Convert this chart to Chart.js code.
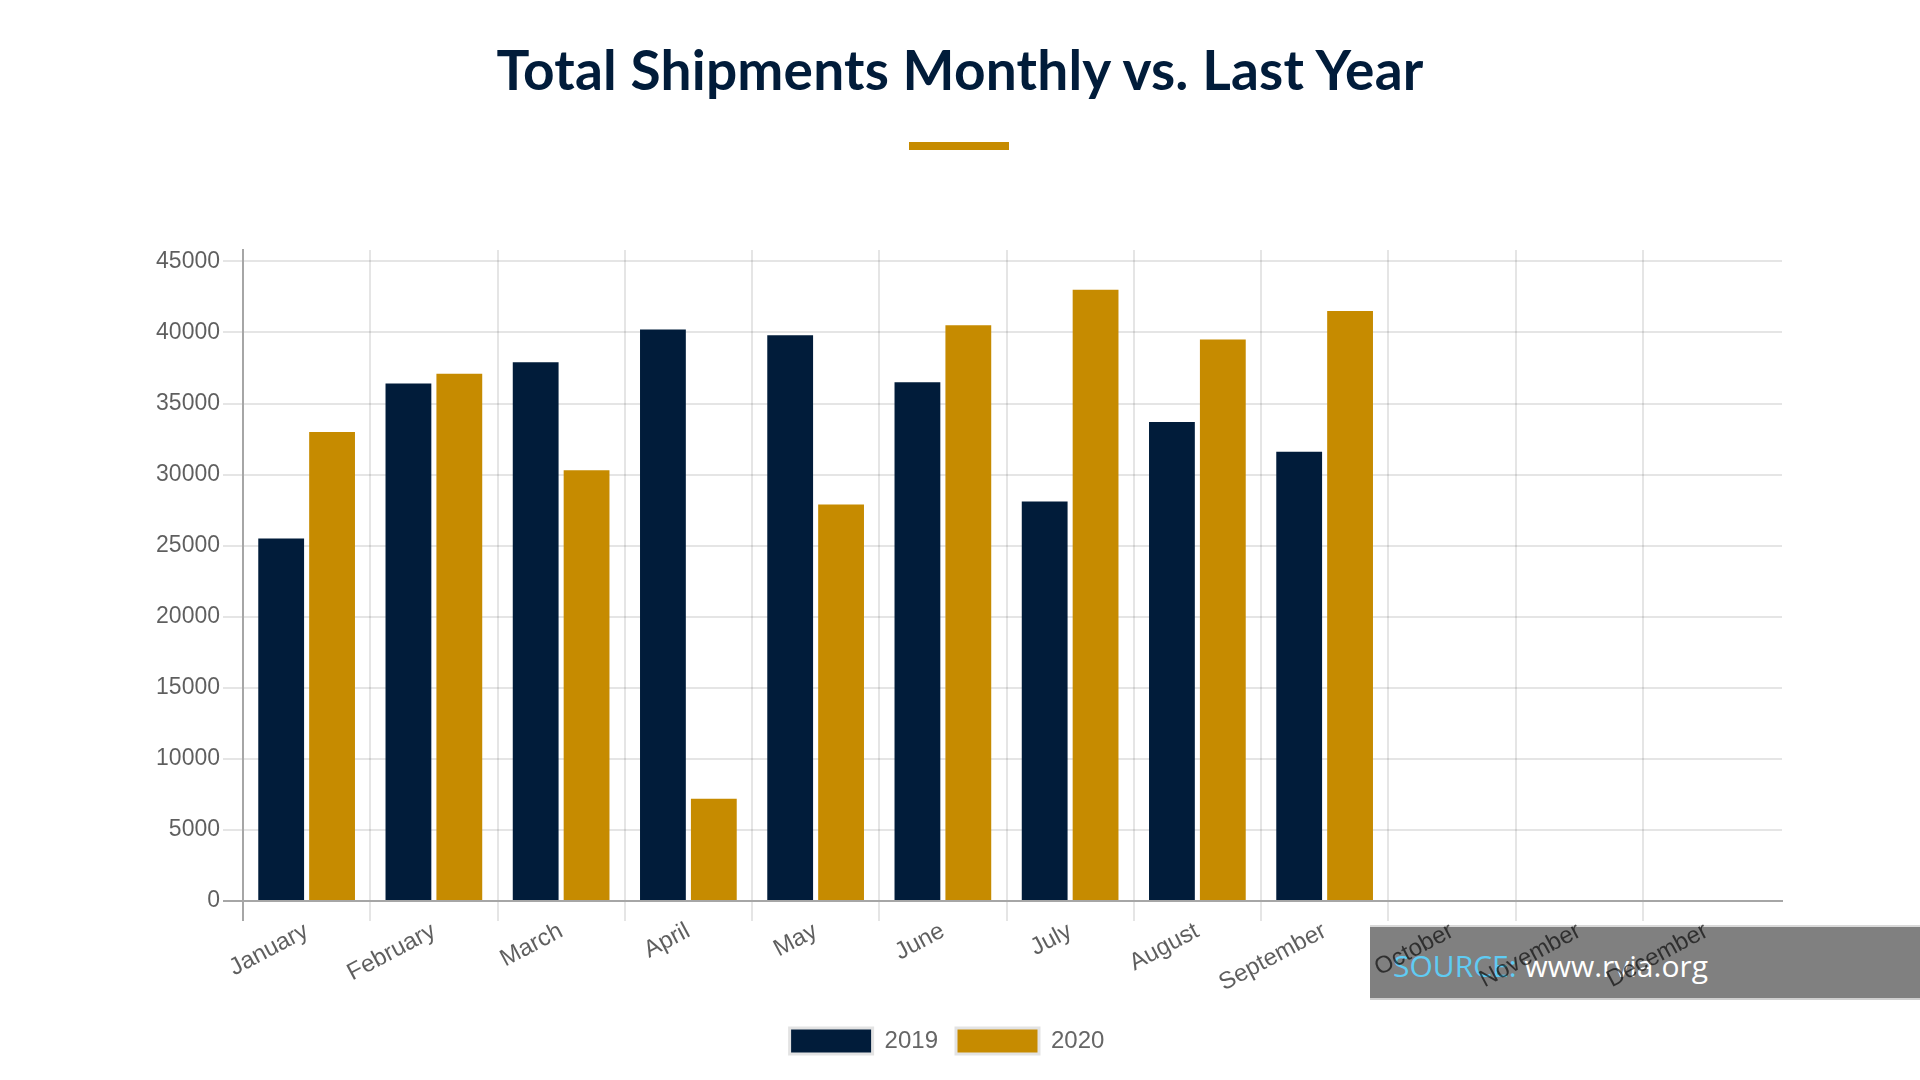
<!DOCTYPE html>
<html lang="en">
  <head>
    <meta charset="UTF-8" />
    <title>Total Shipments Monthly vs. Last Year</title>
    <script src="https://cdn.jsdelivr.net/npm/chart.js"></script>
    <style>
      html, body {
        margin: 0;
        padding: 0;
        width: 1920px;
        height: 1080px;
        background: #ffffff;
        overflow: hidden;
        position: relative;
      }
      #title {
        position: absolute;
        left: 0;
        width: 1920px;
        top: 36px;
        margin: 0;
        line-height: normal;
        text-align: center;
        font-family: "Lato", "Noto Sans", sans-serif;
        font-weight: 700;
        font-size: 55px;
        letter-spacing: 0.2px;
        color: #011c3a;
      }
      #underline {
        position: absolute;
        left: 909px;
        top: 142px;
        width: 100px;
        height: 8px;
        background: #c68b00;
      }
      #source {
        position: absolute;
        left: 1370px;
        top: 925px;
        width: 550px;
        height: 71px;
        background: #808080;
        border-top: 2px solid #d9d9d9;
        border-bottom: 2px solid #cfcfcf;
        z-index: 0;
      }
      #source span {
        position: absolute;
        left: 23px;
        top: 18px;
        line-height: normal;
        font-family: "Open Sans", "Noto Sans", sans-serif;
        font-size: 30px;
        color: #ffffff;
        white-space: nowrap;
      }
      #source b {
        font-weight: 400;
        color: #5fcbf3;
      }
      .container {
        position: absolute;
        left: 112px;
        top: 230px;
        width: 1694px;
        height: 834px;
        z-index: 1;
      }
    </style>
    <script>
      const months = [
        "January", "February", "March", "April", "May", "June",
        "July", "August", "September", "October", "November", "December",
      ];
      const seriesNames = ["2019", "2020"];
      const shipments2019 = [25500, 36400, 37900, 40200, 39800, 36500, 28100, 33700, 31600];
      const shipments2020 = [33000, 37100, 30300, 7200, 27900, 40500, 43000, 39500, 41500];
      const yTicks = [0, 5000, 10000, 15000, 20000, 25000, 30000, 35000, 40000, 45000];

      const NAVY = "#011c3a";
      const GOLD = "#c68b00";
      const AXIS_GRAY = "#a6a6a6";
      const GRID_GRAY = "rgba(0, 0, 0, 0.1)";
      // translucent so the labels darken where they cross the grey source box
      const TICK_COLOR = "rgba(0, 0, 0, 0.63)";
      // the category band stops a little short of where the horizontal grid ends
      const X_RIGHT_INSET = 12;

      const insetCategoryRange = {
        id: "insetCategoryRange",
        afterLayout(chart) {
          const x = chart.scales.x;
          x._endPixel = x.right - X_RIGHT_INSET;
          x._length = x._endPixel - x._startPixel;
        },
      };

      function drawShipmentsChart() {
        const data = {
          labels: months,
          datasets: [
            {
              label: seriesNames[0],
              data: shipments2019,
              backgroundColor: NAVY,
              borderWidth: 0,
            },
            {
              label: seriesNames[1],
              data: shipments2020,
              backgroundColor: GOLD,
              borderWidth: 0,
            },
          ],
        };

        const config = {
          type: "bar",
          data: data,
          plugins: [insetCategoryRange],
          options: {
            responsive: false,
            animation: false,
            layout: { padding: { top: 20, right: 24, left: 0, bottom: 0 } },
            plugins: {
              tooltip: { enabled: false },
              legend: {
                position: "bottom",
                labels: {
                  color: "#666",
                  boxWidth: 83,
                  boxHeight: 26,
                  padding: 18,
                  font: { family: "Liberation Sans", size: 24 },
                  generateLabels: (chart) =>
                    Chart.defaults.plugins.legend.labels
                      .generateLabels(chart)
                      .map((item) => ({ ...item, lineWidth: 3, strokeStyle: "#e3e3e3" })),
                },
              },
            },
            scales: {
              x: {
                afterFit: (scale) => { scale.height = 109; },
                border: { color: AXIS_GRAY, width: 2 },
                grid: {
                  lineWidth: 2,
                  tickLength: 20,
                  color: (ctx) =>
                    ctx.type !== "tick" ? "transparent" : ctx.index === 0 ? AXIS_GRAY : GRID_GRAY,
                },
                ticks: {
                  color: TICK_COLOR,
                  font: { family: "Liberation Sans", size: 24 },
                  autoSkip: false,
                  padding: -4,
                  minRotation: 28,
                  maxRotation: 28,
                },
              },
              y: {
                min: 0,
                max: 45800,
                afterFit: (scale) => { scale.width = 131; },
                border: { color: AXIS_GRAY, width: 2 },
                grid: {
                  lineWidth: 2,
                  tickLength: 20,
                  color: (ctx) => (ctx.tick && ctx.tick.value === 0 ? AXIS_GRAY : GRID_GRAY),
                },
                afterBuildTicks: (scale) => {
                  scale.ticks = yTicks.map((v) => ({ value: v }));
                },
                ticks: {
                  color: TICK_COLOR,
                  font: { family: "Liberation Sans", size: 23 },
                  callback: (value) => String(value),
                },
              },
            },
          },
        };

        const ctx = document.getElementById("shipments-chart");
        new Chart(ctx, config);
      }

      document.addEventListener("DOMContentLoaded", drawShipmentsChart);
    </script>
  </head>
  <body>
    <h1 id="title">Total Shipments Monthly vs. Last Year</h1>
    <div id="underline"></div>

    <div id="source"><span><b>SOURCE:</b> www.rvia.org</span></div>

    <div class="container">
      <canvas id="shipments-chart" width="1694" height="834"></canvas>
    </div>
  </body>
</html>
